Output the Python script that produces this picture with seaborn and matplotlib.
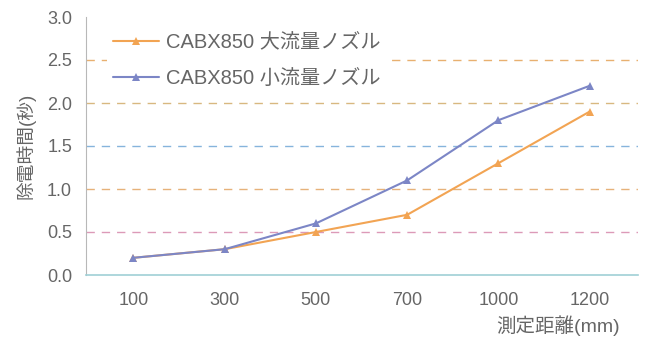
import matplotlib.pyplot as plt
import seaborn as sns
import pandas as pd

distances = ["100", "300", "500", "700", "1000", "1200"]
large_flow = [0.2, 0.3, 0.5, 0.7, 1.3, 1.9]
small_flow = [0.2, 0.3, 0.6, 1.1, 1.8, 2.2]
series_names = ["CABX850 大流量ノズル", "CABX850 小流量ノズル"]
y_ticks = [0.0, 0.5, 1.0, 1.5, 2.0, 2.5, 3.0]


def build_frame():
    rows = []
    for name, values in zip(series_names, [large_flow, small_flow]):
        for i, (d, v) in enumerate(zip(distances, values)):
            rows.append({"pos": i, "distance": d, "time": v, "series": name})
    return pd.DataFrame(rows)


def main():
    sns.set_style("white")
    plt.rcParams["font.family"] = ["Liberation Sans", "Noto Sans CJK JP", "DejaVu Sans"]

    fig = plt.figure(figsize=(6.49, 3.40), dpi=100)
    ax = fig.add_axes([86 / 649, 1 - 275 / 340, 552 / 649, 258 / 340])

    grid_colors = {0.5: "#dc9ab8", 1.0: "#e6b27a", 1.5: "#86b4dc", 2.0: "#d8b880", 2.5: "#e8b070"}
    for y, c in grid_colors.items():
        ax.axhline(y, color=c, linestyle=(0, (6, 5)), linewidth=1.0, zorder=0)

    df = build_frame()
    palette = {series_names[0]: "#f2a453", series_names[1]: "#7c86c6"}
    sns.lineplot(data=df, x="pos", y="time", hue="series", palette=palette,
                 marker="^", markersize=6, markeredgewidth=0, linewidth=1.5,
                 ax=ax, zorder=3)

    ax.set_xlim(-0.52, 5.53)
    ax.set_ylim(0, 3.0)
    ax.set_xticks(range(len(distances)))
    ax.set_xticklabels(distances)
    ax.set_yticks(y_ticks)
    ax.set_yticklabels([f"{t:.1f}" for t in y_ticks])
    ax.tick_params(axis="both", labelsize=13, labelcolor="#666666", length=0)
    ax.tick_params(axis="x", pad=12)
    ax.tick_params(axis="y", pad=10)

    for side in ["top", "right"]:
        ax.spines[side].set_visible(False)
    ax.spines["left"].set_color("#b8b8b8")
    ax.spines["bottom"].set_color("#9fcfd6")
    ax.spines["bottom"].set_linewidth(1.2)

    ax.set_xlabel("")
    ax.set_ylabel("除電時間(秒)", fontsize=13.5, color="#666666", labelpad=8)
    fig.text(558 / 649, 1 - 326 / 340, "測定距離(mm)", fontsize=14,
             color="#666666", ha="center", va="center")

    leg = ax.legend(loc="upper left", bbox_to_anchor=(0.02, 1.0), frameon=True,
                    facecolor="white", edgecolor="none", framealpha=1,
                    fontsize=14.5, handlelength=2.3, handletextpad=0.3,
                    labelspacing=0.85, borderpad=0.3)
    for t in leg.get_texts():
        t.set_color("#666666")

    fig.savefig("out.png", dpi=100)


if __name__ == "__main__":
    main()
